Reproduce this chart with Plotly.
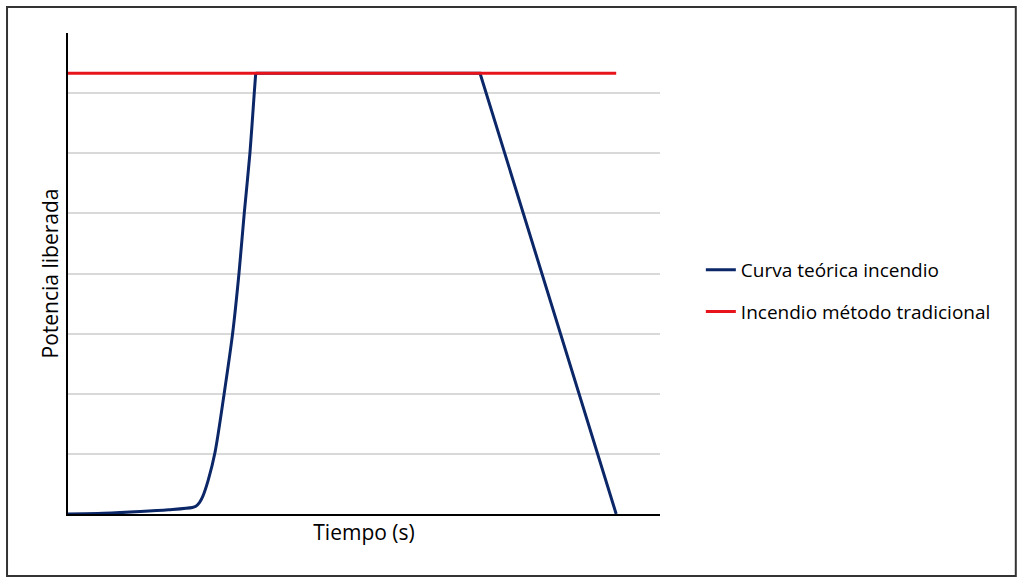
import plotly.graph_objects as go

# Theoretical fire curve (time in arbitrary units, power in arbitrary units)
# growth phase (smooth)
rise_time = [0, 6, 12.2, 17, 21.0, 21.6, 22.2, 22.75, 23.7, 24.83, 26.4, 27.82, 28.89, 29.78, 30.74, 31.47, 31.71]
rise_power = [0, 0.012, 0.04, 0.07, 0.108, 0.13, 0.19, 0.288, 0.567, 1.022, 2.017, 3.012, 4.012, 5.012, 6.012, 7.012, 7.33]
# fully developed + decay phase
decay_time = [31.71, 69.6, 92.6]
decay_power = [7.33, 7.33, 0]

# Traditional method fire (constant power)
trad_time = [0, 92.6]
trad_power = [7.33, 7.33]

series_names = ["Curva teórica incendio", "Incendio método tradicional"]
blue = "#0B2768"
red = "#E8141C"

fig = go.Figure()
fig.add_trace(go.Scatter(x=rise_time, y=rise_power, mode="lines", name=series_names[0],
                         legendgroup="a",
                         line=dict(color=blue, width=3, shape="spline", smoothing=0.8)))
fig.add_trace(go.Scatter(x=decay_time, y=decay_power, mode="lines", name=series_names[0],
                         legendgroup="a", showlegend=False,
                         line=dict(color=blue, width=3)))
fig.add_trace(go.Scatter(x=trad_time, y=trad_power, mode="lines", name=series_names[1],
                         legendgroup="b",
                         line=dict(color=red, width=3)))

font_family = "Open Sans, Liberation Sans, sans-serif"
fig.update_layout(
    width=1024, height=583,
    margin=dict(l=68, r=364, t=33, b=69),
    paper_bgcolor="white", plot_bgcolor="white",
    font=dict(family=font_family, color="#000000", size=19),
    xaxis=dict(range=[0, 100], showgrid=False, showticklabels=False, ticks="",
               showline=True, linecolor="#000000", linewidth=2, zeroline=False,
               title=dict(text="Tiempo (s)", font=dict(size=21), standoff=10)),
    yaxis=dict(range=[0, 8], dtick=1, showgrid=True, gridcolor="#D9D9D9", gridwidth=1.5,
               showticklabels=False, ticks="", showline=True, linecolor="#000000", linewidth=2,
               zeroline=False,
               title=dict(text="Potencia liberada", font=dict(size=21), standoff=2)),
    legend=dict(x=1.069, y=0.4636, xanchor="left", yanchor="middle",
                font=dict(size=19), tracegroupgap=14, bgcolor="rgba(0,0,0,0)"),
    shapes=[dict(type="rect", xref="paper", yref="paper",
                 x0=-0.103, x1=1.601, y0=-0.129, y1=1.054,
                 line=dict(color="#333333", width=2), fillcolor="rgba(0,0,0,0)", layer="below")],
)

fig.write_html("out.html")
